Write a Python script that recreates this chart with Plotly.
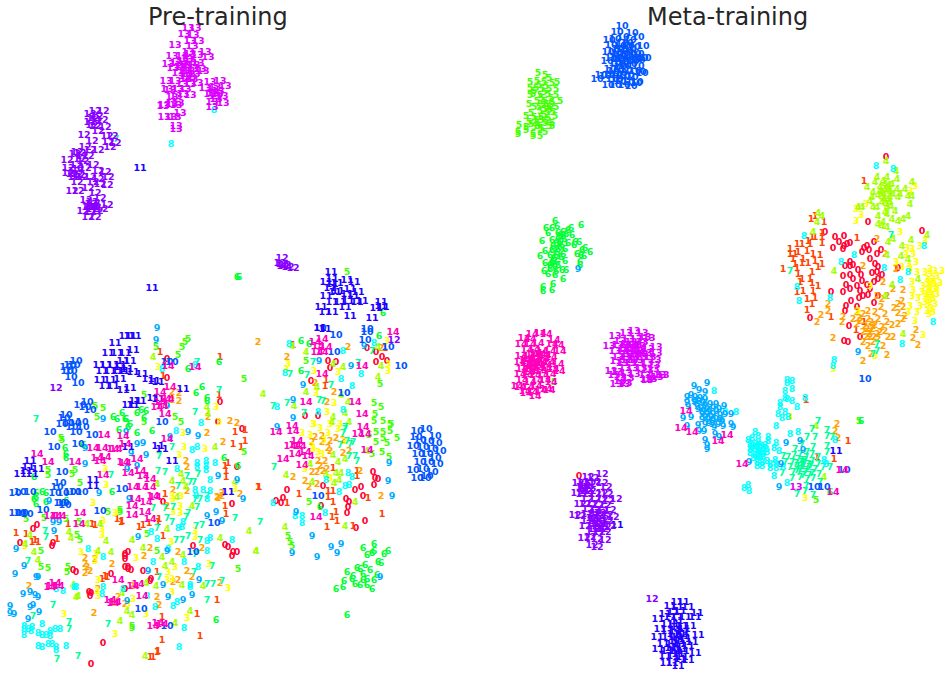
import plotly.graph_objects as go

CLASS_COLORS = ["#ff0033", "#ff4400", "#ffa200", "#ffff00", "#a2ff00", "#44ff00", "#00ff33", "#00ff99",
                "#00ffff", "#00aaff", "#0055ff", "#2200ff", "#8800ff", "#dd00ff", "#ff00bb"]
PANEL_TITLES = ["Pre-training", "Meta-training"]

# ---------- Pre-training embedding: (x, y) per class ----------
pre_0 = [(20,544),(33,530),(37,526),(52,547),(53,544),(73,571),(76,573),(89,593),(90,597),(91,594),(111,575),(103,644),(91,665),(125,555),(125,560),(125,568),(128,568),(125,590),
 (167,360),(167,379),(220,403),(218,423),(242,430),(237,468),(232,505),(163,503),(193,547),(225,546),(228,548),(232,557),(233,553),(237,553),(128,553),(125,557),(128,570),(131,571),(143,572),(151,580),(150,582),
 (367,349),(328,362),(336,363),(330,369),(376,353),(376,363),(382,358),(387,362),(311,382),(305,417),(318,417),(373,473),(375,479),(378,480),(374,486),(323,487),(287,491),(276,502),(283,499),(281,504),(355,491),(361,488),(363,497),(346,500),(349,503),(348,508),(347,514),(321,507),(365,522),(356,529)]
pre_1 = [(16,534),(26,535),(35,541),(32,543),(38,543),(68,525),(92,525),(95,526),(57,540),(117,520),(121,523),(105,577),(102,580),(107,578),(160,353),(220,358),(163,377),(219,396),(235,433),(245,431),(245,442),(233,445),(241,448),(225,467),(228,464),(226,478),(226,472),(165,495),(258,488),(225,507),(226,515),(139,528),(143,526),(149,524),(159,520),(158,523),(122,522),(163,537),(157,573),(217,601),(197,615),(162,618),(200,637),(162,641),(158,652),(157,653),(153,658),(150,658),
 (293,346),(326,381),(325,387),(385,349),(357,472),(357,477),(333,469),(259,488),(299,495),(328,492),(333,492),(328,498),(333,503),(368,499),(382,515),(336,513),(332,518),(337,522),(327,528),(287,504),(353,527)]
pre_2 = [(29,587),(85,559),(85,565),(87,568),(85,574),(95,560),(90,572),(98,590),(118,598),(94,614),(112,565),(172,393),(179,394),(172,401),(179,402),(208,418),(230,422),(237,424),(207,434),(223,443),(186,462),(187,468),(173,491),(187,492),(217,498),(222,497),(240,495),(218,499),(222,494),(167,507),(144,557),(150,549),(178,553),(202,549),(187,572),(192,578),(178,581),(173,583),(132,587),(220,584),(157,598),(159,606),(125,605),
 (258,343),(287,358),(348,348),(315,384),(334,393),(327,403),(381,349),(315,438),(322,437),(322,443),(330,442),(336,439),(343,441),(312,443),(328,449),(330,452),(343,454),(349,452),(318,462),(325,462),(320,467),(327,470),(312,473),(317,473),(323,472),(293,478),(305,482),(309,488),(317,485),(360,472),(381,497)]
pre_3 = [(105,470),(106,486),(25,547),(81,553),(96,555),(95,562),(103,522),(102,530),(102,536),(115,514),(93,504),(115,635),(64,615),(115,604),(128,605),(98,581),(97,592),(98,597),(158,368),(216,408),(183,434),(184,448),(205,450),(179,456),(219,423),(235,490),(181,497),(172,497),(173,500),(180,507),(180,514),(173,513),(195,532),(195,538),(171,543),(136,559),(209,565),(175,568),(168,573),(172,580),(167,581),(228,589),(172,593),(133,600),(146,615),(187,619),
 (288,365),(286,370),(314,372),(338,373),(387,342),(316,394),(334,404),(327,413),(388,365),(388,372),(314,425),(313,425),(320,429),(302,434),(310,436),(330,425),(328,434),(340,425),(338,430),(312,447),(324,441),(313,450),(318,453),(322,455),(305,470),(330,479),(345,442)]
pre_4 = [(87,525),(69,533),(30,536),(25,545),(71,539),(100,525),(106,542),(98,552),(34,553),(38,561),(111,553),(73,586),(76,598),(78,597),(120,622),(122,594),(153,358),(207,408),(208,415),(215,448),(181,475),(172,482),(183,482),(157,485),(186,488),(235,483),(177,498),(192,507),(167,530),(249,532),(220,539),(256,552),(143,549),(132,541),(162,558),(172,563),(183,556),(165,567),(182,586),(146,584),(156,587),(203,587),(127,612),(132,616),(190,612),(175,624),(145,657),
 (292,347),(306,353),(343,368),(378,348),(381,367),(333,365),(378,378),(317,388),(306,393),(263,395),(341,396),(294,407),(348,403),(345,414),(333,418),(349,423),(332,423),(333,456),(338,463),(345,460),(310,465),(286,476),(326,476),(336,474),(341,474),(339,481),(312,483),(334,484),(355,503),(285,528),(345,527),(256,552),(367,452)]
pre_5 = [(95,407),(103,409),(97,418),(61,439),(62,441),(75,471),(48,471),(48,476),(72,475),(80,484),(26,520),(44,519),(66,520),(108,513),(120,511),(79,523),(77,536),(80,541),(41,552),(48,569),(67,573),(41,568),(68,568),(188,340),(185,343),(182,348),(178,356),(156,348),(244,380),(144,396),(144,423),(175,418),(181,423),(244,453),(120,513),(147,535),(157,552),(238,570),(132,627),(132,629),
 (347,273),(306,362),(380,385),(374,404),(381,408),(375,415),(374,422),(383,422),(390,425),(391,425),(376,433),(383,433),(390,432),(369,436),(376,443),(387,444),(383,439),(397,439),(382,453),(372,455),(389,458),(309,503),(288,537),(290,543),(292,547)]
pre_6 = [(113,418),(122,414),(117,420),(126,420),(119,431),(65,449),(66,455),(66,459),(128,428),(83,446),(34,478),(112,493),(36,494),(42,493),(46,494),(36,498),(34,500),(46,503),(66,502),(36,505),(219,363),(188,370),(202,388),(196,394),(207,399),(207,402),(137,414),(141,411),(146,412),(144,419),(137,434),(152,432),(224,459),(238,467),(130,425),(125,420),(216,621),(237,278),(239,278),
 (301,342),(309,345),(301,372),(379,337),(383,314),(320,508),(363,549),(374,545),(374,552),(367,556),(372,554),(384,555),(388,552),(378,563),(381,564),(357,569),(365,566),(360,570),(370,571),(347,573),(353,577),(363,575),(377,576),(352,580),(344,582),(363,581),(367,580),(374,581),(355,585),(360,586),(367,586),(343,588),(336,590),(372,590),(347,616)]
pre_7 = [(36,420),(111,476),(45,532),(46,538),(28,562),(53,606),(33,617),(69,623),(69,630),(108,625),(57,660),(78,657),(197,363),(219,391),(195,413),(172,448),(159,457),(158,472),(165,473),(187,477),(198,475),(178,487),(194,483),(207,497),(190,483),(195,500),(200,500),(153,509),(165,509),(173,508),(188,514),(197,508),(235,519),(167,519),(172,523),(186,518),(157,529),(196,527),(202,526),(176,541),(182,541),(188,537),(200,541),(195,555),(212,567),(194,573),(159,578),(207,601),(207,585),(213,585),(222,582),(116,140),
 (313,363),(290,375),(307,376),(331,386),(273,407),(287,404),(319,401),(323,402),(304,414),(358,364),(372,352),(345,428),(345,430),(343,434),(347,442),(353,443),(350,445),(340,446),(349,457),(355,457),(357,462),(274,468),(260,523)]
pre_8 = [(171,145),(214,111),(88,550),(103,558),(102,595),(103,588),(76,588),(74,588),(56,590),(63,592),(24,630),(24,636),(28,630),(32,628),(42,625),(38,634),(42,636),(46,636),(50,632),(50,637),(55,630),(60,630),(52,645),(48,645),(38,647),(42,648),(66,647),(56,651),(56,648),(24,627),(31,632),
 (162,370),(195,366),(201,424),(176,432),(197,448),(192,451),(206,462),(206,467),(197,464),(197,468),(215,464),(206,471),(177,470),(210,481),(195,491),(203,491),(210,492),(196,497),(207,500),(183,523),(178,529),(182,528),(151,533),(157,540),(168,550),(210,539),(207,542),(232,541),(207,552),(153,563),(184,563),(198,568),(190,586),(190,588),(123,590),(147,597),(177,603),(173,607),(155,608),(184,629),(179,648),
 (289,345),(343,352),(374,344),(285,374),(361,375),(341,380),(352,387),(277,408),(318,413),(343,411),(348,474),(352,478),(326,481),(345,487),(349,486),(339,493),(273,504),(295,517),(302,517),(302,524),(325,514)]
pre_9 = [(103,420),(126,433),(85,465),(85,449),(99,494),(49,502),(53,523),(59,523),(54,532),(16,550),(24,567),(15,575),(30,593),(38,578),(36,578),(23,595),(38,598),(30,608),(35,596),(10,607),(10,614),(14,615),(28,620),(33,606),(39,613),(157,329),(156,341),(198,437),(188,433),(170,438),(137,445),(143,444),(131,454),(146,456),(218,477),(237,481),(167,407),(127,470),(137,467),(129,500),(207,517),(216,513),(243,500),(222,522),(138,538),(167,552),(148,572),(163,586),(199,581),(183,601),(192,596),(168,598),(127,602),
 (319,362),(364,347),(351,367),(303,386),(293,401),(293,419),(277,428),(389,464),(388,482),(392,497),(296,513),(312,537),(331,548),(341,545),(337,554),(292,554),(317,558),(380,578)]
pre_10 = [(76,362),(70,366),(67,372),(71,372),(71,378),(78,384),(66,368),(74,366),(87,403),(80,406),(85,408),(90,411),(66,416),(64,419),(68,424),(75,424),(82,423),(62,425),(72,428),(83,428),(50,433),(76,433),(92,436),(54,448),(78,445),(62,473),(60,484),(57,488),(63,494),(15,494),(20,493),(30,493),(55,494),(70,493),(75,493),(82,493),(60,504),(63,504),(65,506),(15,514),(20,514),(22,514),(27,515),(43,511),(100,512),(162,423),(167,363),(172,363),(122,490),(193,553),(214,524),(141,610),(167,627),
 (320,329),(336,336),(367,330),(367,333),(365,341),(334,353),(388,348),(401,367),(344,394),(318,497),
 (417,432),(426,430),(416,438),(435,437),(420,441),(428,442),(436,444),(413,447),(423,448),(432,450),(440,452),(418,455),(427,455),(435,459),(420,463),(428,463),(437,465),(413,471),(423,470),(432,473),(417,479),(425,479),(427,477)]
pre_11 = [(140,169),(152,289),(115,344),(108,354),(117,354),(125,354),(99,366),(106,366),(113,366),(120,366),(102,372),(110,372),(118,372),(127,370),(100,381),(110,381),(120,380),(105,387),(113,387),(123,391),(30,462),(28,468),(26,472),(32,475),(20,475),(38,470),(93,481),(93,487),
 (125,337),(130,337),(135,337),(133,351),(123,362),(130,362),(120,368),(123,372),(133,373),(142,375),(148,380),(154,382),(158,383),(130,389),(183,390),(153,399),(158,400),(135,402),(140,402),(128,406),(133,406),(128,448),(158,447),(162,450),(172,462),(228,493),
 (331,273),(332,280),(326,283),(337,284),(332,285),(347,281),(354,283),(330,289),(350,290),(338,292),(358,293),(326,297),(335,293),(347,295),(353,297),(332,303),(340,303),(348,302),(357,303),(362,302),(321,308),(345,308),(325,313),(332,313),(350,317),(372,319),(381,303),(381,307),(376,309),(383,308),(320,329),(325,330)]
pre_12 = [(56,389),(394,341),(282,259),(282,265),(285,266),(288,268),(293,269),(283,267),(280,264),
 (95,112),(103,112),(90,115),(97,117),(102,121),(90,123),(95,127),(105,128),(98,132),(84,136),(107,137),(112,137),(92,142),(108,143),(115,144),(110,148),(85,148),(77,153),(90,151),(98,151),(82,157),(75,155),(88,157),(67,161),(80,160),(93,166),(68,169),(78,170),(85,169),(98,172),(68,174),(77,175),(105,173),(108,178),(74,178),(82,178),(90,178),(98,180),(77,183),(93,183),(100,185),(107,186),(78,192),(72,192),(88,189),(95,194),(86,201),(100,199),(92,203),(107,206),(88,208),(95,208),(102,210),(90,213),(83,212),(97,212),(88,218),(95,218),
 (93,119),(96,122),(92,126),(80,154),(83,162),(76,166),(74,172),(72,175),(79,176),(91,205),(94,204),(90,208),(92,210),(93,207)]
pre_13 = [(188,29),(195,29),(184,35),(193,36),(190,42),(198,42),(175,46),(192,47),(188,53),(205,53),(172,57),(182,57),(190,55),(197,56),(208,58),(168,65),(176,64),(183,62),(190,63),(198,64),(173,69),(180,68),(186,69),(193,70),(200,70),(178,74),(187,75),(194,75),(203,72),(186,80),(192,80),(197,84),(166,82),(175,82),(182,85),(190,85),(170,91),(178,90),(185,90),(167,90),(176,97),(183,95),(190,96),(172,98),(163,107),(164,106),(172,105),(178,104),(180,114),(175,118),(164,118),(171,118),(176,106),(176,127),(176,130),(210,83),(220,82),(225,87),(205,89),(213,90),(218,92),(215,97),(210,95),(222,97),(212,103),(223,104),(212,108),
 (187,60),(185,66),(189,72),(184,72),(190,78),(185,77),(194,66),(181,66),(215,88),(217,95),(213,94),(216,100)]
pre_14 = [(104,436),(93,449),(102,449),(113,450),(116,450),(37,455),(48,463),(75,463),(97,459),(105,458),(100,462),(125,445),(123,463),(103,476),(79,525),(80,514),(50,517),(56,517),(60,517),(118,581),(50,588),(55,584),(52,587),(58,587),(110,601),(113,604),(115,603),
 (168,367),(195,368),(170,388),(160,393),(165,400),(160,403),(168,400),(157,408),(162,407),(165,415),(123,437),(167,440),(137,460),(125,464),(128,474),(140,472),(143,477),(150,480),(133,488),(142,488),(150,488),(153,497),(155,498),(135,500),(132,507),(146,503),(132,516),(145,513),(150,520),(142,597),(133,587),(138,585),(153,627),(158,624),(162,625),
 (393,333),(315,343),(322,340),(318,347),(326,348),(317,353),(322,353),(362,367),(322,375),(306,403),(355,403),(362,415),(292,427),(276,433),(293,432),(363,428),(358,435),(365,435),(297,442),(295,446),(290,447),(300,447),(295,455),(305,453),(283,460),(302,466),(308,457),(367,451),(316,518)]

# ---------- Meta-training embedding: (x, y) per class ----------
meta_0 = [(579,477),(886,158),(868,223),(922,232),(825,233),(835,238),(844,237),(839,243),(850,244),(844,247),(847,245),(833,249),(843,250),(874,243),(867,247),(864,249),(869,251),(881,251),(877,255),(862,253),(850,263),(845,267),(853,266),(870,260),(858,271),(850,267),(875,265),(878,268),(872,274),(882,276),(877,273),(843,277),(850,276),(861,276),(878,280),(853,280),(862,282),(874,283),(846,286),(857,287),(867,286),(843,293),(850,290),(860,292),(870,290),(863,297),(868,296),(859,299),(831,293),(878,297),(851,302),(874,304),(846,307),(857,308),(845,312),(810,319),(849,327),(860,338),(844,342),(848,343),(898,269)]
meta_1 = [(848,442),(834,460),(806,401),(817,458),(815,217),(811,220),(824,223),(864,182),(857,239),(822,234),(822,238),(812,238),(808,242),(815,238),(797,245),(802,245),(810,245),(822,244),(790,250),(798,253),(807,252),(790,255),(795,255),(813,255),(820,256),(793,260),(803,260),(815,262),(795,265),(802,264),(808,264),(822,265),(818,268),(797,269),(783,270),(812,273),(798,275),(802,280),(810,280),(800,283),(812,284),(818,287),(803,292),(797,293),(813,292),(807,300),(815,299),(812,305),(807,311),(831,318),(864,323),(856,331)]
meta_2 = [(837,425),(835,432),(838,439),(877,240),(885,255),(863,267),(896,270),(883,283),(903,291),(893,290),(877,297),(887,297),(828,305),(828,312),(882,300),(902,302),(881,308),(894,309),(898,305),(903,308),(868,312),(898,314),(857,313),(863,315),(875,313),(885,315),(905,317),(821,316),(817,323),(842,323),(843,318),(853,320),(860,322),(868,320),(878,320),(887,323),(898,325),(903,320),(892,326),(857,325),(865,327),(873,327),(882,328),(863,333),(870,333),(877,335),(885,332),(870,338),(878,340),(888,338),(893,338),(833,339),(863,343),(868,347),(883,347),(916,331),(913,339),(918,346),(871,355),(887,356),(863,362),(873,343),
 (872,330),(875,326),(869,335),(867,330),(874,338),(866,338),(880,333),(859,319),(871,323)]
meta_3 = [(805,499),(790,418),(915,187),(910,192),(866,205),(856,210),(861,216),(856,222),(900,233),(925,242),(920,247),(907,249),(912,250),(906,256),(913,255),(916,263),(896,263),(909,265),(917,273),(910,270),(902,268),(912,283),(930,270),(935,272),(942,272),(925,273),(930,275),(937,277),(927,280),(933,280),(940,284),(923,287),(930,287),(937,288),(913,291),(922,293),(930,293),(937,295),(912,297),(918,299),(927,299),(933,299),(910,307),(920,307),(928,305),(935,305),(908,313),(917,313),(927,312),(933,313),(915,322),(923,336),(870,287),(858,312),(833,370),(875,357),(929,315),
 (931,283),(934,285),(928,291),(932,296),(926,295),(930,301),(931,309),(925,303),(935,290),(928,284)]
meta_4 = [(824,478),(816,427),(886,162),(877,178),(887,178),(897,180),(875,183),(883,182),(892,185),(912,183),(867,188),(880,188),(887,188),(897,190),(905,190),(873,193),(882,193),(890,193),(900,195),(908,197),(912,197),(872,198),(882,198),(890,198),(898,198),(870,202),(882,203),(890,203),(910,205),(858,208),(862,208),(873,208),(877,208),(887,208),(885,213),(895,212),(878,217),(887,215),(908,217),(903,220),(892,220),(898,222),(883,223),(878,225),(882,227),(887,228),(818,214),(822,217),(817,223),(813,233),(927,236),(911,241),(893,240),(888,243),(902,247),(887,256),(901,257),(834,272),(892,286),(885,297),(903,335),(918,280),(896,172),(908,260),
 (885,185),(889,191),(884,195),(888,200),(893,195),(880,192),(886,205),(891,207),(885,190),(878,196),(884,200),(889,186)]
meta_5 = [(554,383),(816,501),(859,422),(538,74),(545,76),(549,79),(530,83),(537,82),(544,83),(552,84),(557,83),(530,89),(536,89),(542,90),(549,90),(556,90),(533,95),(540,96),(548,95),(556,96),(537,102),(545,102),(552,103),(560,102),(529,105),(534,108),(543,106),(549,108),(556,108),(531,114),(540,112),(547,113),(553,113),(526,117),(534,118),(541,118),(548,119),(555,117),(529,123),(537,124),(545,124),(552,124),(519,126),(526,128),(534,128),(541,129),(549,127),(552,127),(518,133),(526,131),(533,135),(540,130),(545,133),(518,135),(533,137),(540,137),
 (539,86),(546,87),(534,92),(544,93),(551,99),(541,99),(546,105),(551,106),(544,110),(549,111),(536,121),(541,121),(546,122),(531,125),(538,127),(544,116),(530,96),(539,108)]
meta_6 = [(830,493),(861,422),(555,222),(581,226),(546,229),(552,229),(557,227),(571,229),(548,234),(558,234),(563,233),(568,231),(542,242),(552,241),(558,240),(564,240),(572,236),(575,243),(579,243),(562,246),(568,244),(574,246),(545,252),(552,251),(558,250),(565,250),(585,249),(582,251),(590,253),(540,257),(550,256),(556,256),(563,255),(577,255),(581,256),(584,257),(545,264),(552,263),(557,263),(565,262),(580,263),(580,266),(544,272),(550,270),(556,272),(562,271),(548,275),(555,276),(566,271),(553,262),(543,288),(543,292),(553,285),(552,291),(563,280),
 (560,236),(556,244),(560,248),(553,247),(557,253),(561,258),(554,259),(558,266),(550,266),(555,268),(560,243),(563,237),(566,235)]
meta_7 = [(790,272),(891,236),(877,345),(873,355),(877,352),(818,422),(812,430),(827,431),(807,438),(815,438),(827,437),(832,438),(795,450),(802,445),(813,448),(827,447),(827,453),(788,458),(783,457),(794,456),(800,455),(807,453),(812,455),(818,458),(785,463),(792,463),(798,460),(805,461),(812,462),(818,465),(830,468),(790,468),(797,467),(803,467),(809,468),(815,470),(823,468),(782,474),(793,473),(799,473),(805,473),(812,474),(819,475),(792,479),(800,478),(807,480),(813,479),(820,483),(806,487),(805,492),(797,495),(813,496),(802,463),(808,465),
 (804,464),(800,470),(806,471),(802,466),(797,471),(811,466),(806,458),(801,461),(796,464),(803,476),(809,476)]
meta_8 = [(714,392),(736,413),(725,413),(787,381),(792,382),(787,384),(792,390),(785,392),(805,399),(785,399),(787,400),(792,402),(780,404),(797,408),(780,408),(785,413),(778,415),(782,419),(788,418),(776,427),(790,435),(798,433),(835,441),(755,433),(758,437),(768,438),(748,441),(752,439),(768,442),(750,445),(755,445),(760,446),(765,446),(750,450),(755,450),(760,450),(766,450),(750,454),(757,455),(762,455),(767,453),(753,459),(758,458),(763,458),(757,463),(762,463),(767,462),(757,467),(762,467),(775,461),(770,465),(776,465),(770,469),(776,469),(783,468),(776,444),(779,452),(774,449),(774,477),(787,484),(744,489),(748,486),(749,492),(824,461),(826,465),
 (876,167),(893,170),(804,237),(854,256),(841,263),(884,269),(908,273),(924,247),(900,281),(797,288),(830,299),(799,302),(933,323),(902,345),(834,361),(833,367),
 (757,448),(759,452),(755,456),(760,457),(763,449),(752,447),(758,443),(763,453)]
meta_9 = [(578,270),(858,353),(694,387),(707,384),(699,391),(705,393),(691,396),(687,398),(695,398),(687,403),(695,403),(700,399),(705,400),(688,407),(697,407),(705,406),(710,405),(716,405),(724,407),(701,409),(707,410),(713,409),(719,410),(683,419),(691,418),(702,415),(707,415),(713,415),(720,416),(725,415),(731,415),(702,420),(708,420),(716,420),(722,422),(698,426),(705,425),(712,425),(723,427),(731,425),(733,428),(687,427),(699,432),(704,432),(714,428),(715,435),(719,438),(705,441),(707,446),(707,450),(786,444),(800,442),(803,451),(781,465),(779,488),(749,463),
 (699,402),(703,404),(709,412),(703,412),(711,418),(705,418),(716,412),(720,420),(713,421),(718,425),(694,402),(698,410),(709,424)]
meta_10 = [(865,380),(814,488),(824,488),(844,471),(622,27),(617,33),(632,34),(609,41),(623,38),(638,38),(611,46),(627,44),(643,47),(608,53),(618,50),(630,50),(638,55),(611,59),(620,56),(628,58),(636,60),(642,59),(645,59),(607,62),(615,64),(623,63),(631,65),(638,67),(610,70),(618,70),(626,71),(635,72),(642,74),(609,76),(616,76),(624,77),(632,78),(640,73),(601,76),(605,77),(612,80),(620,82),(628,83),(636,84),(597,80),(608,86),(615,86),(624,86),(631,87),(637,83),(622,45),(615,40),(630,41),(618,60),(626,52),(634,48),(613,52),(620,68),(628,76),(613,72),
 (620,47),(624,54),(617,55),(622,60),(627,62),(619,65),(625,67),(616,59),(630,56),(633,62),(621,74),(617,80),(622,50),(628,47),(635,55),(639,61)]
meta_11 = [(617,526),(836,452),(677,603),(683,603),(670,607),(677,608),(688,608),(697,614),(673,613),(680,612),(665,615),(658,620),(670,618),(677,618),(685,618),(695,618),(667,625),(673,625),(682,627),(690,627),(660,630),(667,632),(675,632),(683,633),(698,636),(657,638),(668,638),(677,638),(685,640),(692,643),(663,645),(672,645),(680,645),(688,647),(658,650),(667,652),(675,652),(683,652),(695,654),(665,657),(673,657),(682,658),(688,661),(666,664),(672,664),(678,667),
 (677,628),(680,635),(675,642),(679,642),(683,637),(673,635),(676,648),(681,650),(678,655),(671,649),(684,630),(677,622),(680,660)]
meta_12 = [(652,600),(602,475),(588,478),(593,479),(595,483),(578,484),(583,483),(590,485),(602,484),(606,488),(577,494),(583,490),(588,490),(582,495),(588,495),(595,495),(602,494),(607,495),(616,500),(580,505),(587,500),(595,500),(602,500),(608,502),(585,505),(592,505),(598,506),(605,506),(610,511),(588,510),(595,511),(602,512),(575,516),(580,517),(587,515),(593,516),(600,517),(607,516),(613,518),(587,522),(593,522),(600,523),(607,522),(585,527),(592,527),(598,527),(605,528),(610,527),(592,533),(599,533),(605,533),(584,539),(590,538),(597,540),(605,541),(592,546),(597,548),(585,487),
 (584,486),(586,492),(582,488),(590,492),(596,520),(600,525),(596,525),(592,519),(603,520),(598,530),(594,530),(602,530),(596,514),(600,514)]
meta_13 = [(796,488),(626,334),(634,332),(642,334),(645,338),(649,339),(615,337),(620,342),(628,340),(636,340),(642,343),(609,347),(618,346),(625,346),(633,346),(640,347),(648,350),(656,348),(615,352),(622,352),(630,352),(638,352),(646,354),(656,354),(618,358),(625,358),(633,358),(641,358),(650,358),(655,361),(616,362),(622,364),(630,364),(638,364),(647,364),(654,366),(625,369),(632,369),(641,369),(653,370),(611,372),(617,373),(626,374),(634,375),(647,371),(614,376),(620,378),(628,379),(645,376),(655,376),(620,382),(626,384),(647,381),(660,376),(651,380),(616,385),(624,385),(646,380),(657,378),(663,376),
 (631,343),(636,346),(628,349),(634,350),(640,351),(631,355),(636,355),(627,355),(632,361),(637,361),(642,355),(627,361),(630,346),(624,350)]
meta_14 = [(686,412),(681,429),(692,433),(727,436),(718,442),(742,465),(842,471),(833,493),(532,335),(540,334),(546,335),(524,339),(530,340),(554,341),(521,345),(530,345),(538,344),(552,345),(558,346),(560,352),(527,351),(534,350),(542,352),(550,352),(521,357),(529,357),(537,358),(545,356),(551,358),(520,363),(526,364),(534,363),(541,363),(549,363),(558,365),(522,370),(530,370),(538,369),(546,369),(553,370),(520,375),(527,376),(535,376),(543,376),(550,375),(559,372),(522,381),(530,383),(537,381),(545,381),(551,383),(520,388),(528,388),(536,387),(546,390),(517,387),(525,392),(532,393),(541,391),(549,391),(526,394),(535,397),
 (532,355),(528,360),(535,361),(531,365),(537,365),(543,360),(540,367),(533,367),(527,368),(533,372),(529,373),(541,372),(546,366),(525,361),(536,354),(540,355)]

pre_classes = [pre_0, pre_1, pre_2, pre_3, pre_4, pre_5, pre_6, pre_7, pre_8, pre_9, pre_10, pre_11, pre_12, pre_13, pre_14]
meta_classes = [meta_0, meta_1, meta_2, meta_3, meta_4, meta_5, meta_6, meta_7, meta_8, meta_9, meta_10, meta_11, meta_12, meta_13, meta_14]

fig = go.Figure()
for classes, xa, ya in [(pre_classes, "x", "y"), (meta_classes, "x2", "y2")]:
    for label, pts in enumerate(classes):
        fig.add_trace(go.Scatter(
            x=[p[0] for p in pts], y=[p[1] for p in pts],
            mode="text", text=[str(label)] * len(pts), textposition="middle center",
            textfont=dict(family="DejaVu Sans", size=9.5, color=CLASS_COLORS[label], weight="bold"),
            xaxis=xa, yaxis=ya, showlegend=False, hoverinfo="skip", cliponaxis=False,
        ))

hidden = dict(visible=False, showgrid=False, zeroline=False)
fig.update_layout(
    width=952, height=680, margin=dict(l=0, r=0, t=0, b=0),
    paper_bgcolor="white", plot_bgcolor="white", showlegend=False,
    xaxis=dict(domain=[0, 0.5], range=[0, 476], **hidden),
    yaxis=dict(domain=[0, 1], range=[680, 0], **hidden),
    xaxis2=dict(domain=[0.5, 1], range=[476, 952], anchor="y2", **hidden),
    yaxis2=dict(domain=[0, 1], range=[680, 0], anchor="x2", **hidden),
    annotations=[
        dict(text=PANEL_TITLES[0], x=218 / 952, y=1 - 17 / 680, xref="paper", yref="paper", showarrow=False,
             xanchor="center", yanchor="middle", font=dict(family="DejaVu Sans", size=24, color="#262626")),
        dict(text=PANEL_TITLES[1], x=727 / 952, y=1 - 17 / 680, xref="paper", yref="paper", showarrow=False,
             xanchor="center", yanchor="middle", font=dict(family="DejaVu Sans", size=24, color="#262626")),
    ],
)
fig.write_html("out.html", config={"displayModeBar": False},
               post_script="document.body.style.margin='0';document.documentElement.style.overflow='hidden';")
